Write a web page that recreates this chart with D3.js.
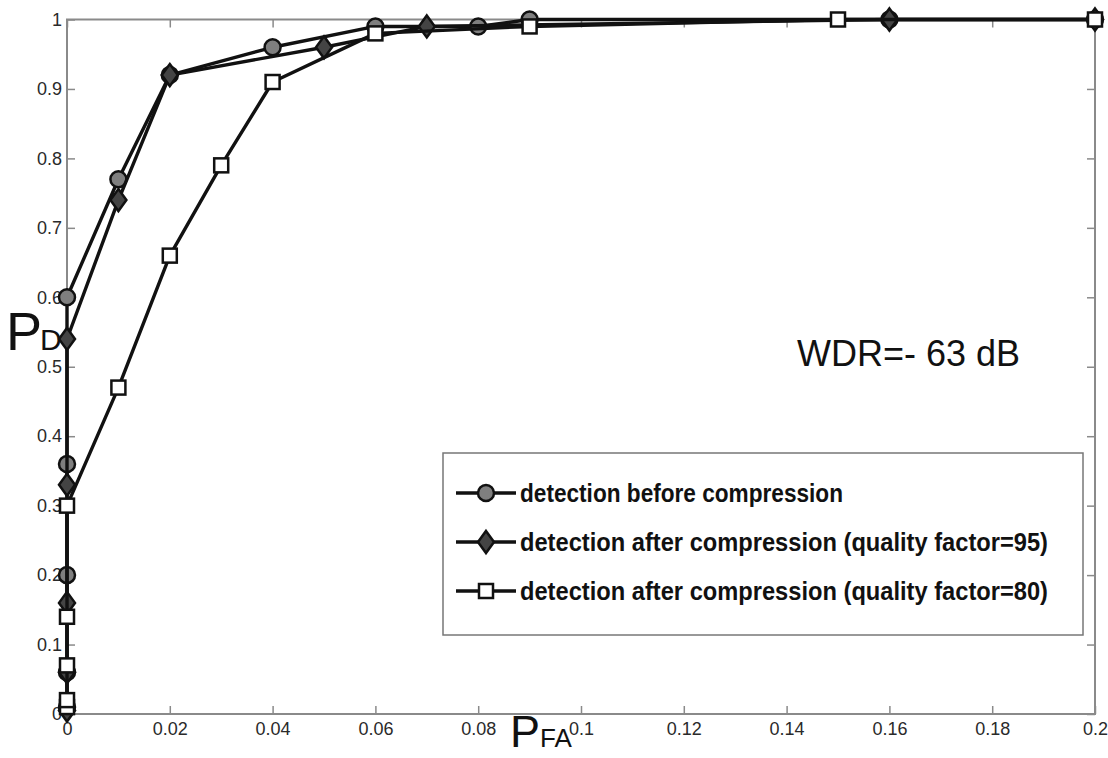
<!DOCTYPE html>
<meta charset="utf-8">
<style>
body { margin: 0; background: #fff; }
text { font-family: Arial, "Liberation Sans", sans-serif; }
</style>
<body>
<script src="https://d3js.org/d3.v7.min.js"></script>
<script>

width = 1108;
height = 758;
margin = ({top: 19.5, right: 13, bottom: 44, left: 67});

// x ticks / y ticks
xTicks = [0, 0.02, 0.04, 0.06, 0.08, 0.1, 0.12, 0.14, 0.16, 0.18, 0.2]
yTicks = [0, 0.1, 0.2, 0.3, 0.4, 0.5, 0.6, 0.7, 0.8, 0.9, 1]

// detection before compression (circles)
pfaBefore = [0, 0, 0, 0, 0, 0.01, 0.02, 0.04, 0.06, 0.08, 0.09, 0.16, 0.2]
pdBefore  = [0.01, 0.06, 0.2, 0.36, 0.6, 0.77, 0.92, 0.96, 0.99, 0.99, 1, 1, 1]

// after compression, quality factor 95 (diamonds)
pfaQ95 = [0, 0, 0, 0, 0, 0.01, 0.02, 0.05, 0.07, 0.16, 0.2]
pdQ95  = [0.005, 0.06, 0.16, 0.33, 0.54, 0.74, 0.92, 0.96, 0.99, 1, 1]

// after compression, quality factor 80 (squares)
pfaQ80 = [0, 0, 0, 0, 0, 0.01, 0.02, 0.03, 0.04, 0.06, 0.09, 0.15, 0.2]
pdQ80  = [0.01, 0.02, 0.07, 0.14, 0.3, 0.47, 0.66, 0.79, 0.91, 0.98, 0.99, 1, 1]

legendLabels = [
  "detection before compression",
  "detection after compression (quality factor=95)",
  "detection after compression (quality factor=80)"
]

series = [
  {name: legendLabels[0], x: pfaBefore, y: pdBefore, shape: "circle", fill: "#7f7f7f"},
  {name: legendLabels[1], x: pfaQ95, y: pdQ95, shape: "diamond", fill: "#444"},
  {name: legendLabels[2], x: pfaQ80, y: pdQ80, shape: "square", fill: "#fff"}
]

xScale = d3.scaleLinear([0, 0.2], [margin.left, width - margin.right])
yScale = d3.scaleLinear([0, 1], [height - margin.bottom, margin.top])

var svg = d3.select("body").append("svg")
    .attr("width", width)
    .attr("height", height)

// axes box, ticks pointing inward
var axisColor = "#8a8a8a"
var x0 = xScale.range()[0], x1 = xScale.range()[1]
var y0 = yScale.range()[0], y1 = yScale.range()[1]

svg.append("g")
    .attr("transform", `translate(0,${y0})`)
    .call(d3.axisBottom(xScale).tickValues(xTicks).tickFormat(d3.format("")).tickSizeInner(-8).tickSizeOuter(0).tickPadding(8))
    .call(g => g.select(".domain").remove())

svg.append("g")
    .attr("transform", `translate(0,${y1})`)
    .call(d3.axisTop(xScale).tickValues(xTicks).tickFormat("").tickSizeInner(-8).tickSizeOuter(0))
    .call(g => g.select(".domain").remove())

svg.append("g")
    .attr("transform", `translate(${x0},0)`)
    .call(d3.axisLeft(yScale).tickValues(yTicks).tickFormat(d3.format("")).tickSizeInner(-8).tickSizeOuter(0).tickPadding(5))
    .call(g => g.select(".domain").remove())

svg.append("g")
    .attr("transform", `translate(${x1},0)`)
    .call(d3.axisRight(yScale).tickValues(yTicks).tickFormat("").tickSizeInner(-8).tickSizeOuter(0))
    .call(g => g.select(".domain").remove())

svg.selectAll(".tick line").attr("stroke", axisColor).attr("stroke-width", 1.5)
svg.selectAll(".tick text")
    .style("font-size", "18px")
    .style("fill", "#2a2a2a")
    .style("font-family", "Arial, 'Liberation Sans', sans-serif")

svg.append("rect")
    .attr("x", x0).attr("y", y1)
    .attr("width", x1 - x0).attr("height", y0 - y1)
    .attr("fill", "none").attr("stroke", axisColor).attr("stroke-width", 2)

// marker drawing
function marker(sel, shape, fill) {
  if (shape == "circle") {
    sel.append("circle").attr("r", 8)
  } else if (shape == "diamond") {
    sel.append("path").attr("d", "M0,-11L8,0L0,11L-8,0Z")
  } else {
    sel.append("rect").attr("x", -7).attr("y", -7).attr("width", 14).attr("height", 14)
  }
  sel.selectChildren().attr("fill", fill).attr("stroke", "#111").attr("stroke-width", 2.5)
}

var line = d3.line().x(d => xScale(d[0])).y(d => yScale(d[1]))

series.forEach(s => {
  var pts = s.x.map((v, i) => [v, s.y[i]])
  svg.append("path")
      .datum(pts)
      .attr("d", line)
      .attr("fill", "none")
      .attr("stroke", "#111")
      .attr("stroke-width", 3.4)
      .attr("stroke-linejoin", "round")
  svg.append("g").selectAll("g")
      .data(pts)
      .join("g")
        .attr("transform", d => `translate(${xScale(d[0])},${yScale(d[1])})`)
        .each(function() { marker(d3.select(this), s.shape, s.fill) })
})

// axis labels
var ylab = svg.append("text").attr("x", 6).attr("y", 350).attr("fill", "#111")
ylab.append("tspan").style("font-size", "54px").text("P")
ylab.append("tspan").style("font-size", "30px").attr("dx", -2).text("D")

var xlab = svg.append("text").attr("x", 510).attr("y", 747).attr("fill", "#111")
xlab.append("tspan").style("font-size", "45px").text("P")
xlab.append("tspan").style("font-size", "26px").text("FA")

svg.append("text")
    .attr("x", 797).attr("y", 366)
    .style("font-size", "36px")
    .attr("fill", "#111")
    .text("WDR=- 63 dB")

// legend
var legend = svg.append("g")
legend.append("rect")
    .attr("x", 443).attr("y", 453).attr("width", 640).attr("height", 182)
    .attr("fill", "#fff").attr("stroke", "#777").attr("stroke-width", 1.5)

var textWidths = [323, 528, 528]
series.forEach((s, i) => {
  var cy = 493 + i * 49
  var g = legend.append("g").attr("transform", `translate(0,${cy})`)
  g.append("line").attr("x1", 456).attr("x2", 516).attr("y1", 0).attr("y2", 0)
      .attr("stroke", "#111").attr("stroke-width", 3.4)
  var m = g.append("g").attr("transform", "translate(486,0)")
  marker(m, s.shape, s.fill)
  g.append("text")
      .attr("x", 520).attr("y", 9)
      .style("font-family", "'Liberation Sans Narrow', 'Arial Narrow', Arial, sans-serif")
      .style("font-size", "25px")
      .style("font-weight", "bold")
      .attr("fill", "#111")
      .attr("textLength", textWidths[i])
      .attr("lengthAdjust", "spacingAndGlyphs")
      .text(s.name)
})

</script>
